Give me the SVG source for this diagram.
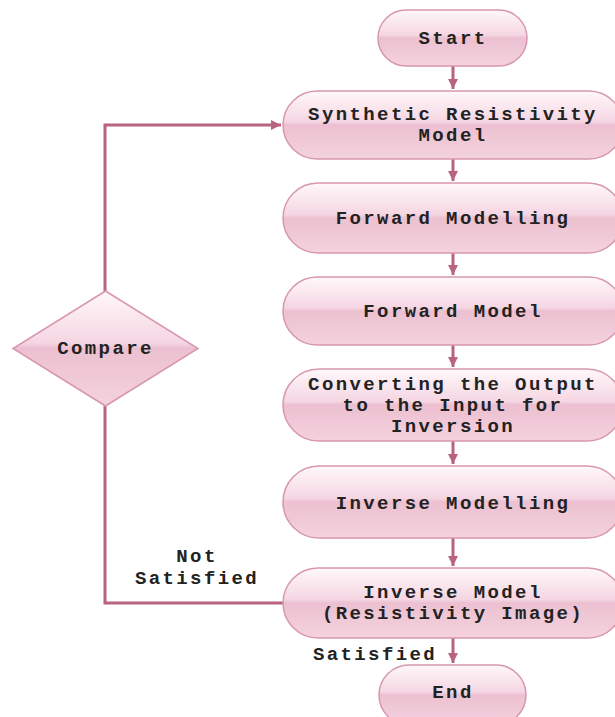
<svg xmlns="http://www.w3.org/2000/svg" width="615" height="717" viewBox="0 0 615 717">
<defs>
<linearGradient id="g" x1="0" y1="0" x2="0" y2="1">
<stop offset="0" stop-color="#fff8fb"/>
<stop offset="0.45" stop-color="#f5d6e2"/>
<stop offset="0.5" stop-color="#ecc0d0"/>
<stop offset="1" stop-color="#f4d2de"/>
</linearGradient>
<marker id="ah" viewBox="0 0 10 10" refX="10" refY="5" markerWidth="10" markerHeight="10" markerUnits="userSpaceOnUse" orient="auto">
<path d="M0,0 L10,5 L0,10 Z" fill="#b8637f"/>
</marker>
<style>
.n{fill:url(#g);stroke:#d896b0;stroke-width:1.5}
.t{font-family:"Liberation Mono","Courier New",monospace;font-size:19px;font-weight:bold;fill:#222222;text-anchor:middle;letter-spacing:2.4px}
.c{fill:none;stroke:#b8637f;stroke-width:3}
</style>
</defs>
<rect width="615" height="717" fill="#ffffff"/>
<g id="connectors">
<path class="c" d="M453,66 V89" marker-end="url(#ah)"/>
<path class="c" d="M453,159 V181" marker-end="url(#ah)"/>
<path class="c" d="M453,253 V275" marker-end="url(#ah)"/>
<path class="c" d="M453,345 V367" marker-end="url(#ah)"/>
<path class="c" d="M453,441 V464" marker-end="url(#ah)"/>
<path class="c" d="M453,538 V566" marker-end="url(#ah)"/>
<path class="c" d="M453,638 V663" marker-end="url(#ah)"/>
<path class="c" d="M283,603 H105 V406"/>
<path class="c" d="M105,291 V125 H281" marker-end="url(#ah)"/>
<text class="t" x="197" y="562">Not</text>
<text class="t" x="197" y="584">Satisfied</text>
<text class="t" x="375" y="660">Satisfied</text>
</g>
<g id="start"><rect class="n" x="378" y="10" width="149" height="56" rx="28"/><text class="t" x="453" y="44">Start</text></g>
<g id="synthetic"><rect class="n" x="283" y="91" width="340" height="68" rx="34"/><text class="t" x="453" y="120">Synthetic Resistivity</text><text class="t" x="453" y="141">Model</text></g>
<g id="forward-modelling"><rect class="n" x="283" y="183" width="340" height="70" rx="35"/><text class="t" x="453" y="224">Forward Modelling</text></g>
<g id="forward-model"><rect class="n" x="283" y="277" width="340" height="68" rx="34"/><text class="t" x="453" y="317">Forward Model</text></g>
<g id="converting"><rect class="n" x="283" y="369" width="340" height="72" rx="36"/><text class="t" x="453" y="390">Converting the Output</text><text class="t" x="453" y="411">to the Input for</text><text class="t" x="453" y="432">Inversion</text></g>
<g id="inverse-modelling"><rect class="n" x="283" y="466" width="340" height="72" rx="36"/><text class="t" x="453" y="509">Inverse Modelling</text></g>
<g id="inverse-model"><rect class="n" x="283" y="568" width="340" height="70" rx="35"/><text class="t" x="453" y="598">Inverse Model</text><text class="t" x="453" y="619">(Resistivity Image)</text></g>
<g id="compare"><polygon class="n" points="105.5,291 198,348.5 105.5,406 13,348.5"/><text class="t" x="105.5" y="354">Compare</text></g>
<g id="end"><rect class="n" x="379" y="665" width="147" height="60" rx="30"/><text class="t" x="453" y="698">End</text></g>
</svg>
